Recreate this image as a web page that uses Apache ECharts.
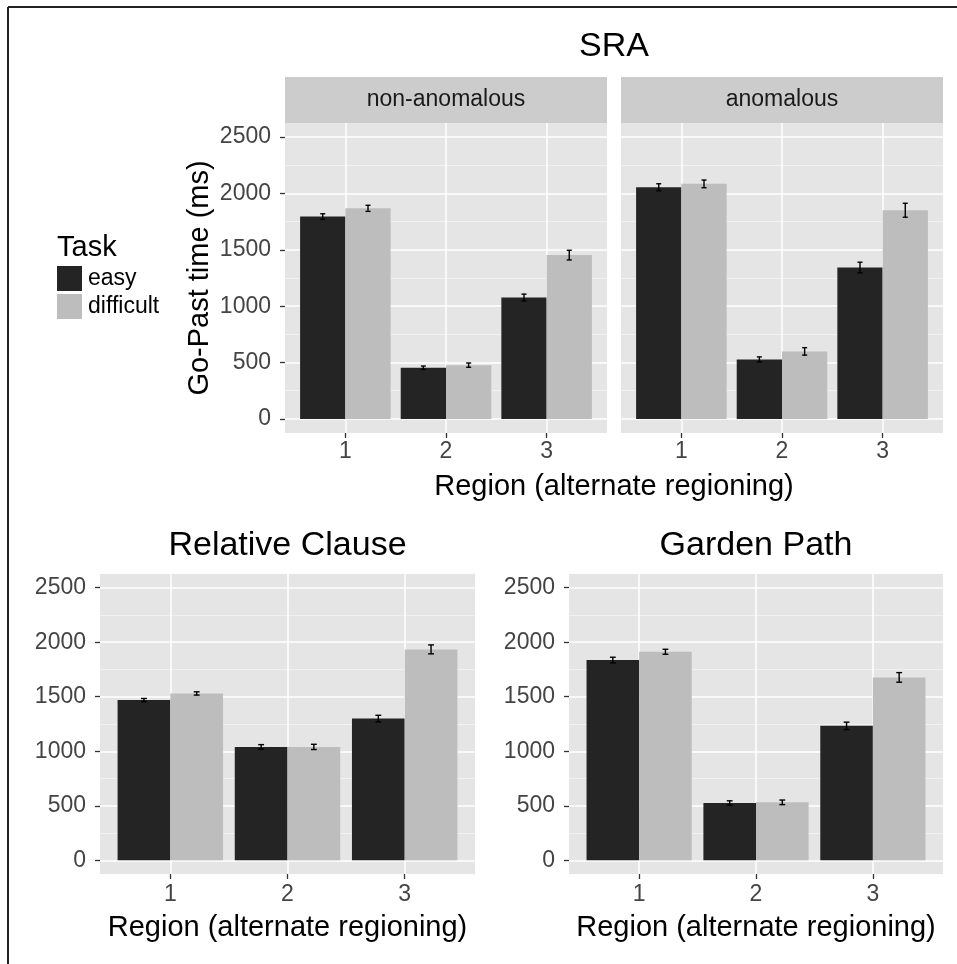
<!DOCTYPE html>
<html>
<head>
<meta charset="utf-8">
<script src="https://cdn.jsdelivr.net/npm/echarts@6/dist/echarts.min.js"></script>
<style>
  html, body { margin: 0; padding: 0; background: #ffffff; }
  #chart { width: 957px; height: 964px; }
</style>
</head>
<body>
<div id="chart"></div>
<script>
// ---------------- data ----------------
const regions = ['1', '2', '3'];
const taskNames = ['easy', 'difficult'];
const yTicks = [0, 500, 1000, 1500, 2000, 2500];

const sraNonAnomalousEasy = [1795, 454, 1077];
const sraNonAnomalousEasyErr = [25, 15, 30];
const sraNonAnomalousDifficult = [1868, 477, 1453];
const sraNonAnomalousDifficultErr = [27, 19, 43];

const sraAnomalousEasy = [2055, 528, 1343];
const sraAnomalousEasyErr = [31, 22, 47];
const sraAnomalousDifficult = [2085, 599, 1851];
const sraAnomalousDifficultErr = [34, 33, 62];

const relClauseEasy = [1469, 1040, 1300];
const relClauseEasyErr = [15, 21, 30];
const relClauseDifficult = [1530, 1040, 1934];
const relClauseDifficultErr = [15, 24, 41];

const gardenPathEasy = [1836, 526, 1233];
const gardenPathEasyErr = [26, 20, 34];
const gardenPathDifficult = [1912, 532, 1677];
const gardenPathDifficultErr = [23, 21, 44];

// ---------------- styling / layout ----------------
const FONT = '"Liberation Sans", Arial, Helvetica, sans-serif';
const COLORS = { easy: '#242424', difficult: '#bdbdbd' };
const PANEL_BG = '#e5e5e5';
const STRIP_BG = '#cccccc';
const TICK_TEXT = '#444444';
const TICK_LINE = '#333333';

const yMin = yTicks[0], yMax = yTicks[yTicks.length - 1], yStep = yTicks[1] - yTicks[0];
const yPad = (yMax - yMin) * 0.05;
const yLo = yMin - yPad, yHi = yMax + yPad;
const xLo = 1 - 0.6, xHi = regions.length + 0.6;
const BAR_W = 0.45;      // per-task bar width in category units
const CAP_W = 0.025;     // half width of error-bar caps

const panels = [
  { box: { left: 285, top: 123, width: 322, height: 310 }, yLabels: true, xMargin: 7,
    easy: sraNonAnomalousEasy, easyErr: sraNonAnomalousEasyErr,
    difficult: sraNonAnomalousDifficult, difficultErr: sraNonAnomalousDifficultErr },
  { box: { left: 621, top: 123, width: 322, height: 310 }, yLabels: false, xMargin: 7,
    easy: sraAnomalousEasy, easyErr: sraAnomalousEasyErr,
    difficult: sraAnomalousDifficult, difficultErr: sraAnomalousDifficultErr },
  { box: { left: 100, top: 574, width: 375, height: 300 }, yLabels: true, xMargin: 9,
    easy: relClauseEasy, easyErr: relClauseEasyErr,
    difficult: relClauseDifficult, difficultErr: relClauseDifficultErr },
  { box: { left: 569, top: 574, width: 374, height: 300 }, yLabels: true, xMargin: 9,
    easy: gardenPathEasy, easyErr: gardenPathEasyErr,
    difficult: gardenPathDifficult, difficultErr: gardenPathDifficultErr }
];

const grids = [], xAxes = [], yAxes = [], series = [];
const T = 'rgba(0,0,0,0)';

function makeRender(taskIdx) {
  return function (params, api) {
    const x = api.value(0), v = api.value(1), e = api.value(2);
    const c = x + (taskIdx === 0 ? -BAR_W / 2 : BAR_W / 2);
    const p0 = api.coord([c - BAR_W / 2, v]);
    const p1 = api.coord([c + BAR_W / 2, 0]);
    const top = api.coord([c, v + e]);
    const bot = api.coord([c, v - e]);
    const capL = api.coord([c - CAP_W, 0])[0];
    const capR = api.coord([c + CAP_W, 0])[0];
    const stroke = { stroke: '#000000', lineWidth: 1.4 };
    return {
      type: 'group',
      children: [
        { type: 'rect', shape: { x: p0[0], y: p0[1], width: p1[0] - p0[0], height: p1[1] - p0[1] },
          style: { fill: api.visual('color') } },
        { type: 'line', shape: { x1: top[0], y1: top[1], x2: bot[0], y2: bot[1] }, style: stroke },
        { type: 'line', shape: { x1: capL, y1: top[1], x2: capR, y2: top[1] }, style: stroke },
        { type: 'line', shape: { x1: capL, y1: bot[1], x2: capR, y2: bot[1] }, style: stroke }
      ]
    };
  };
}

panels.forEach(function (p) {
  const b = p.box;
  // main panel grid
  const gMain = grids.length;
  grids.push({ left: b.left, top: b.top, width: b.width, height: b.height,
    show: true, backgroundColor: PANEL_BG, borderWidth: 0, containLabel: false });
  const xMain = xAxes.length;
  xAxes.push({ type: 'value', gridIndex: gMain, min: xLo, max: xHi, interval: 0.2,
    axisLine: { show: false }, axisTick: { show: false }, axisLabel: { show: false },
    splitLine: { show: true, lineStyle: { color: [T, T, T, '#ffffff', T], width: 1.5 } } });
  const yMainA = yAxes.length;
  yAxes.push({ type: 'value', gridIndex: gMain, min: yLo, max: yHi, interval: yStep / 4,
    axisLine: { show: false }, axisTick: { show: false }, axisLabel: { show: false },
    splitLine: { show: true, lineStyle: { color: [T, '#ffffff', T, T], width: 1.6 } } });
  yAxes.push({ type: 'value', gridIndex: gMain, min: yLo, max: yHi, interval: yStep / 4,
    axisLine: { show: false }, axisTick: { show: false }, axisLabel: { show: false },
    splitLine: { show: true, lineStyle: { color: [T, T, T, '#f2f2f2'], width: 0.9 } } });

  // y tick/label grid (maps yMin..yMax exactly)
  const gY = grids.length;
  const frac = b.height / (yHi - yLo);
  grids.push({ left: b.left, width: b.width, top: b.top + (yHi - yMax) * frac,
    height: (yMax - yMin) * frac, show: false });
  xAxes.push({ type: 'value', gridIndex: gY, show: false, min: 0, max: 1 });
  yAxes.push({ type: 'value', gridIndex: gY, show: p.yLabels, min: yMin, max: yMax, interval: yStep,
    axisLine: { show: false },
    axisTick: { show: true, length: 5, lineStyle: { color: TICK_LINE, width: 1.3 } },
    axisLabel: { show: true, margin: 14, fontSize: 23, color: TICK_TEXT, fontFamily: FONT,
      formatter: function (v) { return String(v); } },
    splitLine: { show: false } });

  // x tick/label grid (category bands)
  const gX = grids.length;
  const xfrac = b.width / (xHi - xLo);
  grids.push({ left: b.left + (0.5 - xLo) * xfrac, width: regions.length * xfrac,
    top: b.top, height: b.height, show: false });
  xAxes.push({ type: 'category', gridIndex: gX, data: regions, boundaryGap: true,
    axisLine: { show: false },
    axisTick: { show: true, alignWithLabel: true, length: 5, lineStyle: { color: TICK_LINE, width: 1.3 } },
    axisLabel: { show: true, margin: p.xMargin, fontSize: 23, color: TICK_TEXT, fontFamily: FONT },
    splitLine: { show: false } });
  yAxes.push({ type: 'value', gridIndex: gX, show: false, min: 0, max: 1 });

  // data series
  [['easy', p.easy, p.easyErr], ['difficult', p.difficult, p.difficultErr]].forEach(function (t, ti) {
    series.push({
      type: 'custom', name: t[0], xAxisIndex: xMain, yAxisIndex: yMainA,
      itemStyle: { color: COLORS[t[0]] },
      renderItem: makeRender(ti),
      encode: { x: 0, y: 1 },
      silent: true,
      data: regions.map(function (r, i) { return [i + 1, t[1][i], t[2][i]]; })
    });
  });
});

function txt(text, x, y, size, opts) {
  opts = opts || {};
  return { type: 'text', x: x, y: y, rotation: opts.rotation || 0, silent: true,
    style: { text: text, fontSize: size, fontFamily: FONT, fill: opts.fill || '#000000',
      align: 'center', verticalAlign: 'middle' } };
}

const graphics = [
  // frame
  { type: 'line', shape: { x1: 8, y1: 7, x2: 957, y2: 7 }, style: { stroke: '#222222', lineWidth: 2 }, silent: true },
  { type: 'line', shape: { x1: 8, y1: 7, x2: 8, y2: 964 }, style: { stroke: '#222222', lineWidth: 2 }, silent: true },
  // strips
  { type: 'rect', shape: { x: 285, y: 77, width: 322, height: 46 }, style: { fill: STRIP_BG }, silent: true },
  { type: 'rect', shape: { x: 621, y: 77, width: 322, height: 46 }, style: { fill: STRIP_BG }, silent: true },
  txt('non-anomalous', 446, 100, 23, { fill: '#1a1a1a' }),
  txt('anomalous', 782, 100, 23, { fill: '#1a1a1a' }),
  // titles
  txt('SRA', 614, 47, 34),
  txt('Relative Clause', 287.5, 546, 34),
  txt('Garden Path', 756, 546, 34),
  // axis titles
  txt('Region (alternate regioning)', 614, 487, 29),
  txt('Region (alternate regioning)', 287.5, 928, 29),
  txt('Region (alternate regioning)', 756, 928, 29),
  txt('Go-Past time (ms)', 200, 278, 29, { rotation: Math.PI / 2 }),
  // legend title
  { type: 'text', x: 57, y: 248, silent: true,
    style: { text: 'Task', fontSize: 29, fontFamily: FONT, fill: '#000000', align: 'left', verticalAlign: 'middle' } }
];

const option = {
  backgroundColor: '#ffffff',
  animation: false,
  grid: grids,
  xAxis: xAxes,
  yAxis: yAxes,
  legend: {
    data: taskNames, orient: 'vertical', left: 57, top: 266, padding: 0,
    itemWidth: 25, itemHeight: 25, itemGap: 3, icon: 'rect', selectedMode: false,
    textStyle: { fontSize: 23, color: '#000000', fontFamily: FONT, padding: [0, 0, 0, 1] }
  },
  graphic: { elements: graphics },
  series: series
};

const chart = echarts.init(document.getElementById('chart'), null, { renderer: 'canvas' });
chart.setOption(option);
</script>
</body>
</html>
